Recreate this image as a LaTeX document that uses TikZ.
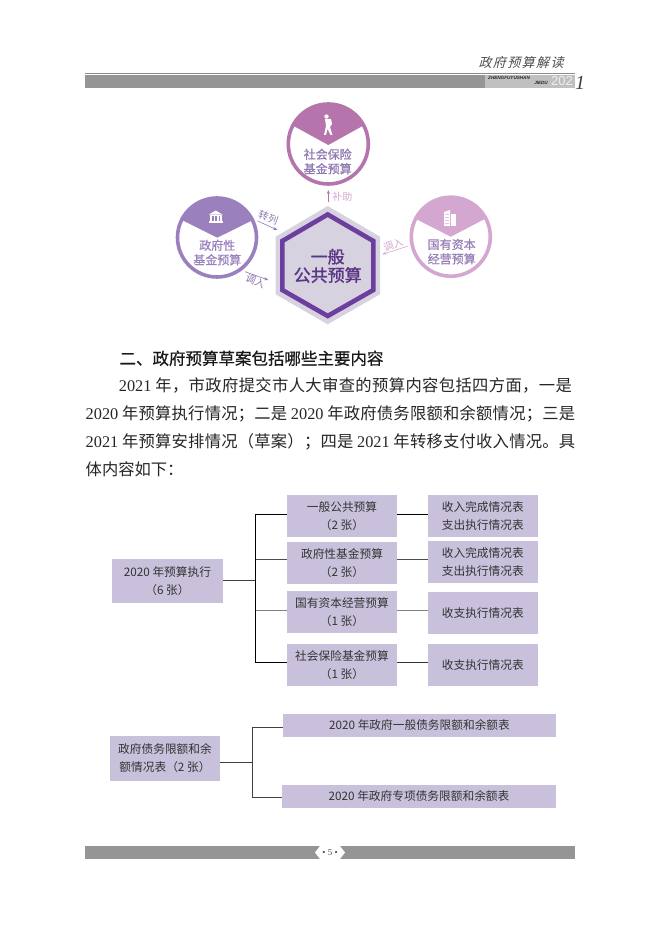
\documentclass[tikz,border=0pt]{standalone}
\usepackage{fontspec}
\setmainfont{Noto Sans CJK SC}
\newfontfamily\cjkslant[FakeSlant=0.25]{Noto Sans CJK SC}
\newfontfamily\cjkbold[FakeBold=0.6]{Noto Sans CJK SC}
\newfontfamily\cjkheavy[FakeBold=1.4]{Noto Sans CJK SC}
\newfontfamily\ltn{Liberation Serif}
\newfontfamily\tinysans{Liberation Sans}
\newcommand{\fs}[2]{\fontsize{#1}{#2}\selectfont}
% spread the characters of one line evenly over its box
\let\stopspr\relax
\def\spr#1{\ifx\stopspr#1\unskip\else{#1}\hfil\expandafter\spr\fi}
\newcommand{\YA}{{\ltn 2021}\kern3.5pt}
\newcommand{\YB}{{\ltn 2020}\kern3.5pt}
\newcommand{\XA}{\kern3.5pt{\ltn 2021}\kern3.5pt}
\newcommand{\XB}{\kern3.5pt{\ltn 2020}\kern3.5pt}
\definecolor{boxc}{HTML}{C9C1DC}
\definecolor{bard}{HTML}{959595}
\definecolor{barl}{HTML}{C0C0C0}
\definecolor{ctop}{HTML}{B574AC}
\definecolor{cleft}{HTML}{9A80BD}
\definecolor{cright}{HTML}{D3A7D0}
\definecolor{hexo}{HTML}{D6D2DF}
\definecolor{hexi}{HTML}{6C3F9E}
\definecolor{lab}{HTML}{8F78B3}
\usetikzlibrary{arrows.meta}
\tikzset{
 tbl/.style={fill=boxc,inner sep=0pt,align=center,text=black!80,font=\fs{11.7}{18}},
 wire/.style={line width=1pt},
 bodyt/.style={anchor=west,inner sep=0pt,text=black!85,font=\fs{16.3}{20}},
 ctext/.style={inner sep=0pt,align=center,font=\cjkbold\fs{12}{14.5}},
 rlab/.style={inner sep=0pt,font=\fs{10}{12}},
 ring/.style={line width=3.6pt,fill=white},
 thinarrow/.style={line width=.6pt,-{Stealth[length=4pt,width=3pt]}},
}
\begin{document}
\begin{tikzpicture}[x=1pt,y=-1pt]
\useasboundingbox (0,0) rectangle (662,936);
\fill[white] (0,0) rectangle (662,936);
% header
\draw[line width=.7pt,black!45] (85,73.2) -- (575,73.2);
\fill[bard] (85,74.7) rectangle (485,88);
\fill[barl] (485,74.7) rectangle (575,88);
\node[inner sep=0pt,text=black!70,font=\cjkslant\fs{13}{14}] (title) at (521,63) {\hbox to 85pt{\spr 政府预算解读\stopspr}};
\node[inner sep=0pt,anchor=west,text=black!85,font=\tinysans\bfseries\itshape\fs{4.6}{5}] (zf) at (488,77.8) {ZHENGFUYUSHAN};
\node[inner sep=0pt,anchor=east,text=black!85,font=\tinysans\bfseries\itshape\fs{4.6}{5}] (jd) at (548,83.2) {JIEDU};
\node[inner sep=0pt,anchor=east,text=white!75!barl,font=\tinysans\fs{13}{14}] (yr) at (573,81.5) {202};
\node[inner sep=0pt,anchor=west,text=black!75,font=\ltn\itshape\fs{20}{20}] (yr1) at (575,83) {1};
% hexagon
\fill[hexo] (327.7,206) -- (380,236.7) -- (380,294.3) -- (327.7,324.3) -- (275.7,294.3) -- (275.7,236.7) -- cycle;
\draw[hexi,line width=4.6pt,miter limit=4] (327.7,214.5) -- (373.3,241) -- (373.3,290) -- (327.7,316) -- (282.3,290) -- (282.3,241) -- cycle;
\node[inner sep=0pt,text=hexi!85!black,font=\cjkheavy\fs{17}{18}] (h1) at (327.7,256.7) {一般};
\node[inner sep=0pt,text=hexi!85!black,font=\cjkheavy\fs{17}{18}] (h2) at (327.7,275) {公共预算};
% top circle
\draw[ctop,ring] (328.3,144) circle[radius=40];
\begin{scope}
\clip (328.3,144) circle[radius=40];
\fill[ctop] (280,100) -- (376,100) -- (376,118.5) -- (328.3,145) -- (280,118.5) -- cycle;
\end{scope}
\node[ctext,text=lab] (t1) at (327.7,161.5) {社会保险\\基金预算};
% person icon
\fill[white] (326.5,116.5) circle[radius=2.2];
\fill[white] (325,119) -- (331,119) -- (332,124) -- (330,127) -- (332.5,135) -- (330.5,135) -- (327.5,129) -- (326,135) -- (324,135) -- (326,126) -- cycle;
% left circle
\draw[cleft,ring] (217,237.5) circle[radius=39.5];
\begin{scope}
\clip (217,237.5) circle[radius=39.5];
\fill[cleft] (170,190) -- (265,190) -- (265,214) -- (217.3,237.7) -- (170,214) -- cycle;
\end{scope}
\node[ctext,text=cleft] (l1) at (217.3,252.5) {政府性\\基金预算};
% bank icon
\fill[white] (215.7,210.5) -- (222.5,214.5) -- (208.9,214.5) -- cycle;
\fill[white] (209.5,215.2) rectangle (222,216);
\foreach \cx in {211,214.5,218,221}{\fill[white] (\cx-.8,216) rectangle (\cx+.8,221);}
\fill[white] (208.5,221) rectangle (223,223);
% right circle
\draw[cright,ring] (450.8,236.7) circle[radius=39.5];
\begin{scope}
\clip (450.8,236.7) circle[radius=39.5];
\fill[cright] (400,190) -- (500,190) -- (500,211) -- (450.8,236.7) -- (400,211) -- cycle;
\end{scope}
\node[ctext,text=lab!85!cright] (r1) at (451.7,251.7) {国有资本\\经营预算};
% building icon
\fill[white] (444,212) -- (450,210) -- (450,226) -- (444,226) -- cycle;
\fill[white] (451,214) rectangle (456,226);
\foreach \wy in {214,217,220,223}{\fill[cright!70] (445,\wy) rectangle (449,\wy+1);}
% small arrows
\coordinate (bzs) at (328.3,201.7); \coordinate (bze) at (328.3,190);
\draw[thinarrow,ctop] (bzs) -- (bze);
\node[rlab,text=cright] (bz) at (342.3,196.7) {补助};
\coordinate (zls) at (257.7,221); \coordinate (zle) at (277.3,230);
\draw[thinarrow,lab] (zls) -- (zle);
\node[rlab,text=lab,rotate=-20] (zl) at (268.3,217.5) {转列};
\coordinate (drs) at (408.3,246); \coordinate (dre) at (382.3,254.3);
\draw[thinarrow,cright] (drs) -- (dre);
\node[rlab,text=cright,rotate=20] (dr) at (393.3,245) {调入};
\coordinate (dls) at (245,271.7); \coordinate (dle) at (268.3,280);
\draw[thinarrow,lab] (dls) -- (dle);
\node[rlab,text=lab,rotate=-25] (dl) at (255.5,281) {调入};
% body
\node[inner sep=0pt,anchor=west,text=black!90,font=\cjkbold\fs{16.5}{20}] (head) at (119.3,358.3) {二、政府预算草案包括哪些主要内容};
\node[bodyt] (p1) at (118.7,385.7) {\hbox to 453pt{\spr\YA 年，市政府提交市人大审查的预算内容包括四方面，一是\stopspr}};
\node[bodyt] (p2) at (85.5,414) {\hbox to 489.5pt{\spr\YB 年预算执行情况；二是\XB 年政府债务限额和余额情况；三是\stopspr}};
\node[bodyt] (p3) at (85.5,441.7) {\hbox to 489.5pt{\spr\YA 年预算安排情况（草案）；四是\XA 年转移支付收入情况。具\stopspr}};
\node[bodyt] (p4) at (85.5,469) {体内容如下：};
% table one
\node[tbl,minimum width=111pt,minimum height=43.7pt] (root) at (167.5,580.8) {2020 年预算执行\\（6 张）};
\node[tbl,minimum width=110pt,minimum height=42pt] (a1) at (342,516) {一般公共预算\\（2 张）};
\node[tbl,minimum width=110pt,minimum height=41.7pt] (a2) at (342,562.8) {政府性基金预算\\（2 张）};
\node[tbl,minimum width=110pt,minimum height=41.7pt] (a3) at (342,611.8) {国有资本经营预算\\（1 张）};
\node[tbl,minimum width=110pt,minimum height=41.7pt] (a4) at (342,664.8) {社会保险基金预算\\（1 张）};
\node[tbl,minimum width=109.7pt,minimum height=42pt] (b1) at (482.8,516) {收入完成情况表\\支出执行情况表};
\node[tbl,minimum width=109.7pt,minimum height=41.7pt] (b2) at (482.8,561.8) {收入完成情况表\\支出执行情况表};
\node[tbl,minimum width=109.7pt,minimum height=41.7pt] (b3) at (482.8,612.8) {\raisebox{-1.5pt}{收支执行情况表}};
\node[tbl,minimum width=109.7pt,minimum height=41.7pt] (b4) at (482.8,664.8) {\raisebox{-1.5pt}{收支执行情况表}};
\coordinate (tt) at (255.5,514.3);
\coordinate (j2) at (255.5,559.3);
\coordinate (j3) at (255.5,610.7);
\coordinate (tb) at (255.5,662.7);
\coordinate (jr) at (255.5,580.3);
\draw[wire,black!75] (root.east |- jr) -- (jr);
\draw[wire,black] (tt -| a1.west) -- (tt) -- (tb) -- (tb -| a4.west);
\draw[wire,black!70] (j2) -- (j2 -| a2.west);
\draw[wire,black!50] (j3) -- (j3 -| a3.west);
\draw[wire,black] (a1.east |- tt) -- (b1.west |- tt);
\draw[wire,black!70] (a2.east |- j2) -- (b2.west |- j2);
\draw[wire,black!50] (a3.east |- j3) -- (b3.west |- j3);
\draw[wire,black!80] (a4.east |- tb) -- (b4.west |- tb);
% table two
\node[tbl,minimum width=110pt,minimum height=44.7pt] (rt2) at (165,758.3) {政府债务限额和余\\额情况表（2 张）};
\node[tbl,minimum width=273pt,minimum height=22.7pt] (c1) at (419.5,725.3) {\raisebox{-1.5pt}{2020 年政府一般债务限额和余额表}};
\node[tbl,minimum width=274pt,minimum height=22.7pt] (c2) at (419,796.3) {\raisebox{-1.5pt}{2020 年政府专项债务限额和余额表}};
\coordinate (k1) at (252.3,727.3);
\coordinate (k2) at (252.3,797.7);
\coordinate (km) at (252.3,762.3);
\draw[wire,black!75] (rt2.east |- km) -- (km);
\draw[wire,black!75] (k1 -| c1.west) -- (k1) -- (k2) -- (k2 -| c2.west);
% footer
\fill[bard] (85,846) rectangle (575,859);
\fill[white] (315,852.5) -- (320,846) -- (340,846) -- (345,852.5) -- (340,859) -- (320,859) -- cycle;
\node[inner sep=0pt,text=black!70,font=\ltn\fs{9}{10}] (pg) at (330,852.5) {• 5 •};
\end{tikzpicture}
\end{document}
